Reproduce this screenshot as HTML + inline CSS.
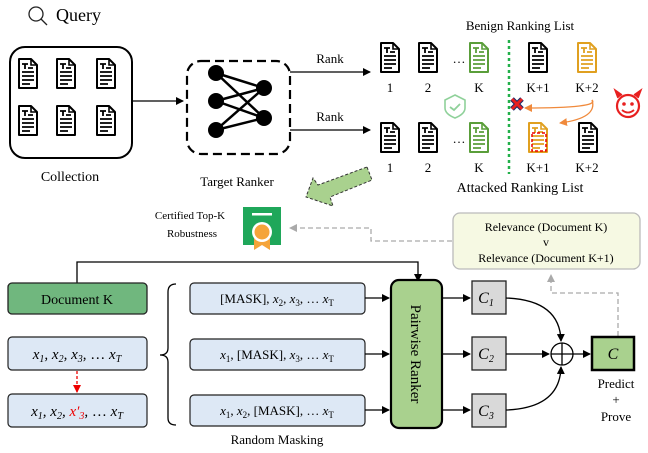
<!DOCTYPE html>
<html><head><meta charset="utf-8"><style>
body{margin:0;background:#fff}
svg{display:block;font-family:"Liberation Serif",serif}
</style></head><body>
<svg width="648" height="453" viewBox="0 0 648 453" xmlns="http://www.w3.org/2000/svg">
<defs>
<g id="doc">
<path d="M1,1 H13 L19,7 V30 H1 Z" fill="#fff" stroke="currentColor" stroke-width="2" stroke-linejoin="round"/>
<path d="M13,1 V7 H19" fill="none" stroke="currentColor" stroke-width="1.6"/>
<path d="M4,6 H10 M7,6 V11 M10,10 H15 M4,14 H16 M4,18 H16 M4,22 H16 M4,26 H12" stroke="currentColor" stroke-width="1.8" fill="none"/>
</g>
<marker id="ah" markerWidth="8" markerHeight="8" refX="7" refY="4" orient="auto" markerUnits="userSpaceOnUse"><path d="M0,0 L8,4 L0,8 Z" fill="#000"/></marker>
<marker id="ahg" markerWidth="8" markerHeight="8" refX="7" refY="4" orient="auto" markerUnits="userSpaceOnUse"><path d="M0,0 L8,4 L0,8 Z" fill="#aaa"/></marker>
<marker id="aho" markerWidth="8" markerHeight="8" refX="7" refY="4" orient="auto" markerUnits="userSpaceOnUse"><path d="M0,0 L8,4 L0,8 Z" fill="#f08a3c"/></marker>
<marker id="ahr" markerWidth="8" markerHeight="8" refX="7" refY="4" orient="auto" markerUnits="userSpaceOnUse"><path d="M0,0 L8,4 L0,8 Z" fill="#e00"/></marker>
</defs>

<!-- Query -->
<circle cx="36" cy="14" r="7" fill="none" stroke="#222" stroke-width="1.3"/>
<line x1="41" y1="19" x2="47" y2="25" stroke="#222" stroke-width="1.3"/>
<text x="56" y="21" font-size="18">Query</text>

<!-- Collection -->
<rect x="10" y="47" width="122" height="111" rx="15" fill="#fff" stroke="#000" stroke-width="2"/>
<g color="#000">
<use href="#doc" x="18" y="58"/><use href="#doc" x="56" y="58"/><use href="#doc" x="96" y="58"/>
<use href="#doc" x="18" y="105"/><use href="#doc" x="56" y="105"/><use href="#doc" x="96" y="105"/>
</g>
<text x="70" y="181" font-size="14" text-anchor="middle">Collection</text>
<line x1="132" y1="101" x2="183" y2="101" stroke="#000" stroke-width="1.3" marker-end="url(#ah)"/>

<!-- Target Ranker -->
<rect x="187" y="61" width="103" height="93" rx="14" fill="none" stroke="#000" stroke-width="2.2" stroke-dasharray="9,5"/>
<g stroke="#000" stroke-width="2.5">
<line x1="216" y1="73" x2="264" y2="88"/><line x1="216" y1="73" x2="264" y2="118"/>
<line x1="216" y1="101" x2="264" y2="88"/><line x1="216" y1="101" x2="264" y2="118"/>
<line x1="216" y1="130" x2="264" y2="88"/><line x1="216" y1="130" x2="264" y2="118"/>
</g>
<g fill="#000"><circle cx="216" cy="73" r="8"/><circle cx="216" cy="101" r="8"/><circle cx="216" cy="130" r="8"/><circle cx="264" cy="88" r="8"/><circle cx="264" cy="118" r="8"/></g>
<text x="237" y="186" font-size="13" text-anchor="middle">Target Ranker</text>

<!-- Rank arrows -->
<path d="M290,72 H370" stroke="#000" stroke-width="1.3" fill="none" marker-end="url(#ah)"/>
<path d="M290,130 H370" stroke="#000" stroke-width="1.3" fill="none" marker-end="url(#ah)"/>
<text x="330" y="63" font-size="13" text-anchor="middle">Rank</text>
<text x="330" y="121" font-size="13" text-anchor="middle">Rank</text>

<!-- Ranking lists -->
<text x="520" y="30" font-size="13" text-anchor="middle">Benign Ranking List</text>
<g color="#000"><use href="#doc" x="380" y="42"/><use href="#doc" x="418" y="42"/><use href="#doc" x="528" y="42"/>
<use href="#doc" x="380" y="122"/><use href="#doc" x="418" y="122"/><use href="#doc" x="578" y="122"/></g>
<g color="#5a9e3a"><use href="#doc" x="469" y="42"/><use href="#doc" x="469" y="122"/></g>
<g color="#e0a020"><use href="#doc" x="577" y="42"/><use href="#doc" x="528" y="122"/></g>
<rect x="532" y="133" width="14" height="18" fill="none" stroke="#e00" stroke-width="1.5" stroke-dasharray="3,2"/>
<text x="459" y="63" font-size="13" text-anchor="middle">…</text>
<text x="459" y="143" font-size="13" text-anchor="middle">…</text>
<g font-size="13" text-anchor="middle">
<text x="390" y="92">1</text><text x="428" y="92">2</text><text x="479" y="92">K</text><text x="538" y="92">K+1</text><text x="587" y="92">K+2</text>
<text x="390" y="172">1</text><text x="428" y="172">2</text><text x="479" y="172">K</text><text x="538" y="172">K+1</text><text x="587" y="172">K+2</text>
</g>
<text x="520" y="192" font-size="14" text-anchor="middle">Attacked Ranking List</text>
<line x1="509" y1="40" x2="509" y2="174" stroke="#22b04a" stroke-width="2.5" stroke-dasharray="3,3"/>
<!-- shield -->
<path d="M455,95 L465,100 V108 Q465,114 455,118 Q445,114 445,108 V100 Z" fill="none" stroke="#8fd19a" stroke-width="1.6"/>
<path d="M450,107 L454,110 L460,104" fill="none" stroke="#8fd19a" stroke-width="1.8"/>
<!-- red X -->
<path d="M512,99 L522,109 M522,99 L512,109" stroke="#1a2a6a" stroke-width="5"/>
<path d="M512,99 L522,109 M522,99 L512,109" stroke="#e82020" stroke-width="3"/>
<!-- orange arrows -->
<path d="M592,100 Q600,108 525,108" fill="none" stroke="#f08a3c" stroke-width="1.3" marker-end="url(#aho)"/>
<path d="M592,100 Q598,118 560,123" fill="none" stroke="#f08a3c" stroke-width="1.3" marker-end="url(#aho)"/>
<!-- devil -->
<circle cx="628" cy="106" r="11" fill="none" stroke="#e82020" stroke-width="2.2"/>
<path d="M618,98 L615,90 L622,95 M638,98 L641,90 L634,95" fill="#e82020" stroke="#e82020" stroke-width="1.5"/>
<circle cx="624" cy="104" r="1.8" fill="#e82020"/><circle cx="632" cy="104" r="1.8" fill="#e82020"/>
<path d="M622,110 Q628,115 634,110" fill="none" stroke="#e82020" stroke-width="1.8"/>

<!-- big green arrow -->
<path d="M367,167 L372,180 L330,197 L333,206 L306,197 L313,178 L318,185 Z" fill="#a9d18e" stroke="#333" stroke-width="1" stroke-dasharray="3,2"/>

<!-- certificate -->
<text x="190" y="219" font-size="11" text-anchor="middle">Certified Top-K</text>
<text x="192" y="237" font-size="11" text-anchor="middle">Robustness</text>
<rect x="243" y="207" width="38" height="38" fill="#1fa75a"/>
<rect x="252" y="213" width="20" height="2.5" fill="#fff"/>
<path d="M254,232 L254,250 L262,245 L270,250 L270,232 Z" fill="#f5a43a"/>
<circle cx="262" cy="232" r="10" fill="#fff"/><circle cx="262" cy="232" r="7.5" fill="#f5a43a"/>

<!-- gray dashed feedback -->
<path d="M452,241 H371 V228 H290" fill="none" stroke="#aaa" stroke-width="1.3" stroke-dasharray="5,3" marker-end="url(#ahg)"/>
<rect x="453" y="213" width="187" height="56" rx="7" fill="#f6f9e3" stroke="#bbb" stroke-width="1.3"/>
<g font-size="12" text-anchor="middle"><text x="546" y="231">Relevance (Document K)</text><text x="546" y="246">v</text><text x="546" y="262">Relevance (Document K+1)</text></g>
<path d="M618,336 V293 H551 V275" fill="none" stroke="#aaa" stroke-width="1.3" stroke-dasharray="5,3" marker-end="url(#ahg)"/>

<!-- Document K top line -->
<path d="M77,283 V262 H418 V281" fill="none" stroke="#000" stroke-width="1.3" marker-end="url(#ah)"/>
<rect x="8" y="283" width="139" height="31" rx="4" fill="#70b77e" stroke="#222" stroke-width="1.3"/>
<text x="77" y="304" font-size="14" text-anchor="middle">Document K</text>

<g font-size="15" font-style="italic" text-anchor="middle">
<rect x="8" y="337" width="139" height="33" rx="4" fill="#dde8f5" stroke="#222" stroke-width="1.2"/>
<text x="77" y="359">x<tspan font-size="10" dy="3">1</tspan><tspan dy="-3">, x</tspan><tspan font-size="10" dy="3">2</tspan><tspan dy="-3">, x</tspan><tspan font-size="10" dy="3">3</tspan><tspan dy="-3" font-style="normal">, … </tspan><tspan dy="0">x</tspan><tspan font-size="10" dy="3">T</tspan></text>
<rect x="8" y="394" width="139" height="33" rx="4" fill="#dde8f5" stroke="#222" stroke-width="1.2"/>
<text x="77" y="416">x<tspan font-size="10" dy="3">1</tspan><tspan dy="-3">, x</tspan><tspan font-size="10" dy="3">2</tspan><tspan dy="-3">, </tspan><tspan fill="#e00">x′</tspan><tspan font-size="10" dy="3" fill="#e00">3</tspan><tspan dy="-3" font-style="normal">, … </tspan><tspan>x</tspan><tspan font-size="10" dy="3">T</tspan></text>
</g>
<line x1="77" y1="371" x2="77" y2="392" stroke="#e00" stroke-width="1.3" stroke-dasharray="3,2" marker-end="url(#ahr)"/>
<path d="M176,284 Q168,284 168,292 V348 Q168,355 160,355 Q168,355 168,362 V418 Q168,425 176,425" fill="none" stroke="#000" stroke-width="1.3"/>

<!-- mask boxes -->
<g font-size="13" text-anchor="middle">
<rect x="190" y="283" width="175" height="31" rx="4" fill="#dde8f5" stroke="#222" stroke-width="1.2"/>
<text x="277" y="303">[MASK], <tspan font-style="italic">x</tspan><tspan font-size="9" dy="3">2</tspan><tspan dy="-3">, </tspan><tspan font-style="italic">x</tspan><tspan font-size="9" dy="3">3</tspan><tspan dy="-3">, … </tspan><tspan font-style="italic">x</tspan><tspan font-size="9" dy="3">T</tspan></text>
<rect x="190" y="339" width="175" height="31" rx="4" fill="#dde8f5" stroke="#222" stroke-width="1.2"/>
<text x="277" y="359"><tspan font-style="italic">x</tspan><tspan font-size="9" dy="3">1</tspan><tspan dy="-3">, [MASK], </tspan><tspan font-style="italic">x</tspan><tspan font-size="9" dy="3">3</tspan><tspan dy="-3">, … </tspan><tspan font-style="italic">x</tspan><tspan font-size="9" dy="3">T</tspan></text>
<rect x="190" y="395" width="175" height="31" rx="4" fill="#dde8f5" stroke="#222" stroke-width="1.2"/>
<text x="277" y="415"><tspan font-style="italic">x</tspan><tspan font-size="9" dy="3">1</tspan><tspan dy="-3">, </tspan><tspan font-style="italic">x</tspan><tspan font-size="9" dy="3">2</tspan><tspan dy="-3">, [MASK], … </tspan><tspan font-style="italic">x</tspan><tspan font-size="9" dy="3">T</tspan></text>
</g>
<text x="277" y="444" font-size="13" text-anchor="middle">Random Masking</text>

<g stroke="#000" stroke-width="1.3" marker-end="url(#ah)">
<line x1="365" y1="298" x2="389" y2="298"/><line x1="365" y1="354" x2="389" y2="354"/><line x1="365" y1="410" x2="389" y2="410"/>
<line x1="443" y1="298" x2="470" y2="298"/><line x1="443" y1="354" x2="470" y2="354"/><line x1="443" y1="410" x2="470" y2="410"/>
</g>
<rect x="391" y="280" width="51" height="148" rx="8" fill="#a9d18e" stroke="#000" stroke-width="2.2"/>
<text x="416" y="354" font-size="15" text-anchor="middle" transform="rotate(90 416 354)" dy="5">Pairwise Ranker</text>

<g font-size="16" font-style="italic" text-anchor="middle">
<rect x="472" y="281" width="34" height="33" fill="#d9d9d9" stroke="#222" stroke-width="1.3"/><text x="486" y="303">C<tspan font-size="10" dy="3">1</tspan></text>
<rect x="472" y="337" width="34" height="33" fill="#d9d9d9" stroke="#222" stroke-width="1.3"/><text x="486" y="359">C<tspan font-size="10" dy="3">2</tspan></text>
<rect x="472" y="394" width="34" height="33" fill="#d9d9d9" stroke="#222" stroke-width="1.3"/><text x="486" y="416">C<tspan font-size="10" dy="3">3</tspan></text>
</g>
<path d="M506,298 Q560,300 561,341" fill="none" stroke="#000" stroke-width="1.3" marker-end="url(#ah)"/>
<path d="M506,410 Q560,408 561,367" fill="none" stroke="#000" stroke-width="1.3" marker-end="url(#ah)"/>
<line x1="506" y1="354" x2="549" y2="354" stroke="#000" stroke-width="1.3" marker-end="url(#ah)"/>
<circle cx="562" cy="354" r="11" fill="#fff" stroke="#000" stroke-width="1.3"/>
<path d="M551,354 H573 M562,343 V365" stroke="#000" stroke-width="1.3"/>
<line x1="573" y1="354" x2="590" y2="354" stroke="#000" stroke-width="1.3" marker-end="url(#ah)"/>
<rect x="592" y="337" width="42" height="33" fill="#a9d18e" stroke="#000" stroke-width="2.5"/>
<text x="613" y="359" font-size="16" font-style="italic" text-anchor="middle">C</text>
<g font-size="13" text-anchor="middle"><text x="616" y="388">Predict</text><text x="616" y="404">+</text><text x="616" y="421">Prove</text></g>
</svg>
</body></html>
